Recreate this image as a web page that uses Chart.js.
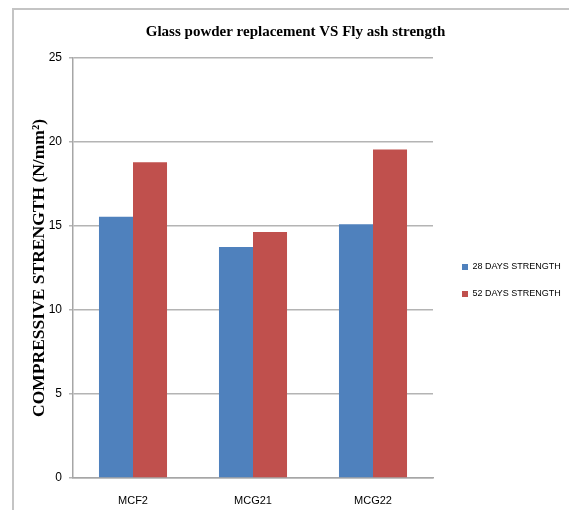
<!DOCTYPE html>
<html>
<head>
<meta charset="utf-8">
<script src="https://cdn.jsdelivr.net/npm/chart.js@4"></script>
<style>
  body { margin: 0; background: #fff; }
  #wrap { position: relative; width: 569px; height: 510px; overflow: hidden; }
  #frame { position: absolute; left: 12px; top: 8px; width: 600px; height: 600px;
           border-left: 2px solid #c4c4c4; border-top: 2px solid #c4c4c4; }
  #chart { position: absolute; left: 0; top: 0; }
</style>
</head>
<body>
<div id="wrap">
  <div id="frame"></div>
  <canvas id="chart" width="569" height="510"></canvas>
</div>
<script>
// mixes
const mixes = ['MCF2', 'MCG21', 'MCG22'];
const strength28 = [15.55, 13.75, 15.1];
const strength52 = [18.8, 14.65, 19.55];
const seriesNames = ['28 DAYS STRENGTH', '52 DAYS STRENGTH'];
const yTicks = [0, 5, 10, 15, 20, 25];

const sansFont = "'Liberation Sans', Arial, sans-serif";
const serifFont = "'Liberation Serif', 'DejaVu Serif', serif";

// keep the legend a fixed width and nudge it where the original sits
const legendPlace = {
    id: 'legendPlace',
    afterInit(chart) {
        const lg = chart.legend;
        const fit = lg.fit;
        lg.fit = function() {
            fit.call(this);
            if (!this.isHorizontal()) this.width = 136;
        };
    },
    afterLayout(chart) {
        const lg = chart.legend;
        lg.left += 11;
        lg.right += 11;
        lg.top += 14;
        lg.bottom += 14;
    }
};

const ctx = document.getElementById('chart');

new Chart(ctx, {
    type: 'bar',
    data: {
        labels: mixes,
        datasets: [
            {
                label: seriesNames[0],
                data: strength28,
                backgroundColor: '#4F81BD'
            },
            {
                label: seriesNames[1],
                data: strength52,
                backgroundColor: '#C0504D'
            }
        ]
    },
    options: {
        responsive: false,
        animation: false,
        layout: { padding: { left: 22, right: 0, top: 23, bottom: 0 } },
        datasets: {
            bar: { categoryPercentage: 0.567, barPercentage: 1 }
        },
        plugins: {
            title: {
                display: true,
                text: 'Glass powder replacement VS Fly ash strength',
                color: '#000',
                font: { family: serifFont, size: 15, weight: 'bold' },
                padding: { top: 0, bottom: 17 }
            },
            legend: {
                position: 'right',
                labels: {
                    boxWidth: 6,
                    boxHeight: 6,
                    color: '#000',
                    padding: 18,
                    font: { family: sansFont, size: 9 }
                }
            },
            tooltip: { enabled: false }
        },
        scales: {
            x: {
                afterFit: scale => { scale.height = 32; },
                grid: { display: false },
                border: { color: '#a6a6a6', width: 1.5 },
                ticks: { color: '#000', padding: 8, font: { family: sansFont, size: 11 } }
            },
            y: {
                min: 0,
                max: 25,
                afterBuildTicks: scale => {
                    scale.ticks = yTicks.map(v => ({ value: v }));
                },
                afterFit: scale => { scale.width = 51; },
                grid: { color: '#b4b4b4', lineWidth: 1.5, tickLength: 4 },
                border: { color: '#a6a6a6', width: 1.5 },
                ticks: { color: '#000', padding: 7, font: { family: sansFont, size: 12 } },
                title: {
                    display: true,
                    text: 'COMPRESSIVE STRENGTH (N/mm²)',
                    color: '#000',
                    font: { family: serifFont, size: 17.5, weight: 'bold' },
                    padding: { top: 7, bottom: 4 }
                }
            }
        }
    },
    plugins: [legendPlace]
});
</script>
</body>
</html>
